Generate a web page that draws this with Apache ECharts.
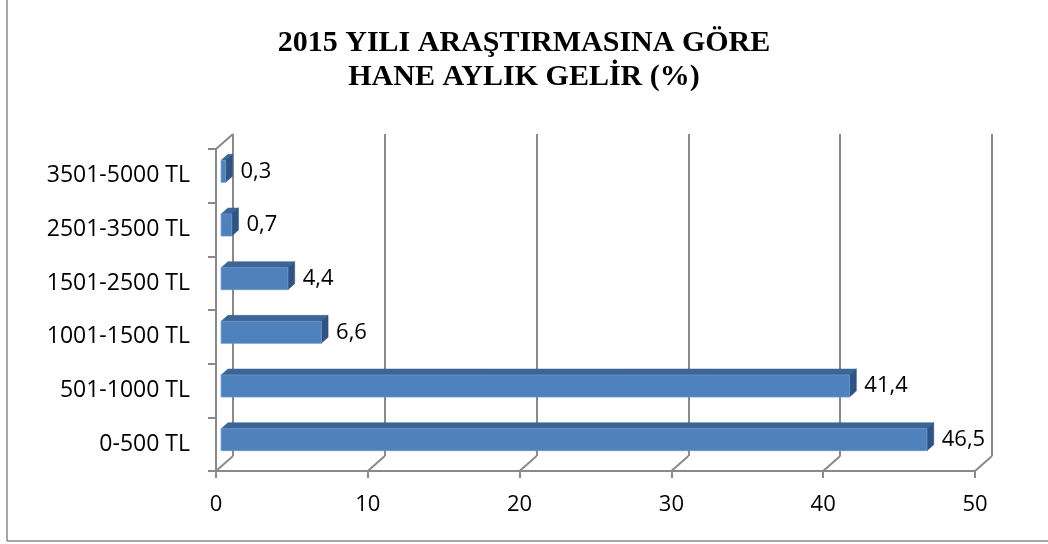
<!DOCTYPE html>
<html>
<head>
<meta charset="utf-8">
<script src="https://cdn.jsdelivr.net/npm/echarts@6/dist/echarts.min.js"></script>
<style>
html,body{margin:0;padding:0;background:#fff;}
#chart{width:1048px;height:544px;}
</style>
</head>
<body>
<div id="chart"></div>
<script>
// ---- data ----
var categories = ['0-500 TL', '501-1000 TL', '1001-1500 TL', '1501-2500 TL', '2501-3500 TL', '3501-5000 TL'];
var values = [46.5, 41.4, 6.6, 4.4, 0.7, 0.3];
var xTicks = [0, 10, 20, 30, 40, 50];
var titleLines = ['2015 YILI ARAŞTIRMASINA GÖRE', 'HANE AYLIK GELİR (%)'];

// ---- style constants ----
var DX = 17, DY = -15;          // 3D depth offset
var FRONT = 0.3, BACK = 0.7;    // bar depth fraction
var GRID_L = 216, GRID_T = 149, GRID_W = 759, GRID_H = 322;
var LINE_COL = '#8a8a8a';
var FONT = '"Open Sans", sans-serif';

var chart = echarts.init(document.getElementById('chart'), null, {renderer: 'canvas'});

function fmt(v) { return v.toFixed(1).replace('.', ','); }

var barData = values.map(function (v, i) { return [v, i]; });
var floorData = xTicks.map(function (t) { return [t, 0]; });

var option = {
  backgroundColor: '#ffffff',
  animation: false,
  title: {
    text: titleLines.join('\n'),
    left: 519,
    top: 21,
    textAlign: 'center',
    textStyle: {
      fontFamily: '"Liberation Serif", "Times New Roman", serif',
      fontWeight: 'bold',
      fontSize: 30,
      lineHeight: 34,
      color: '#000'
    }
  },
  grid: [
    {left: GRID_L, top: GRID_T, width: GRID_W, height: GRID_H},
    {left: GRID_L + DX, top: GRID_T + DY, width: GRID_W, height: GRID_H}
  ],
  xAxis: [
    {
      type: 'value', gridIndex: 0, min: 0, max: 50, interval: 10,
      axisLine: {show: true, lineStyle: {color: LINE_COL, width: 2}},
      axisTick: {show: true, inside: false, length: 7, lineStyle: {color: LINE_COL, width: 2}},
      splitLine: {show: false},
      axisLabel: {fontFamily: FONT, fontSize: 22, color: '#000', margin: 23}
    },
    {
      type: 'value', gridIndex: 1, min: 0, max: 50, interval: 10,
      axisLine: {show: false}, axisTick: {show: false}, axisLabel: {show: false},
      splitLine: {show: true, lineStyle: {color: LINE_COL, width: 2}}
    }
  ],
  yAxis: [
    {
      type: 'category', gridIndex: 0, data: categories,
      axisLine: {show: true, lineStyle: {color: LINE_COL, width: 2}},
      axisTick: {show: true, inside: false, length: 8, lineStyle: {color: LINE_COL, width: 2}},
      axisLabel: {fontFamily: FONT, fontSize: 23, color: '#000', margin: 26}
    },
    {
      type: 'category', gridIndex: 1, data: categories, show: false
    }
  ],
  series: [
    {
      // floor diagonals + left wall top edge
      type: 'custom', xAxisIndex: 0, yAxisIndex: 0, z: 1,
      data: floorData,
      renderItem: function (params, api) {
        var band = api.size([0, 1])[1];
        var p = api.coord([api.value(0), 0]);
        var yb = p[1] + band / 2;
        var children = [{
          type: 'line',
          shape: {x1: p[0], y1: yb, x2: p[0] + DX, y2: yb + DY},
          style: {stroke: LINE_COL, lineWidth: 2}
        }];
        if (params.dataIndex === 0) {
          var q = api.coord([0, categories.length - 1]);
          var yt = q[1] - band / 2;
          children.push({
            type: 'line',
            shape: {x1: q[0], y1: yt, x2: q[0] + DX, y2: yt + DY},
            style: {stroke: LINE_COL, lineWidth: 2}
          });
        }
        return {type: 'group', children: children};
      }
    },
    {
      type: 'custom', xAxisIndex: 0, yAxisIndex: 0, z: 5,
      data: barData,
      renderItem: function (params, api) {
        var v = api.value(0), idx = api.value(1);
        var band = api.size([0, 1])[1];
        var h = band * 0.41;
        var p0 = api.coord([0, idx]);
        var p1 = api.coord([v, idx]);
        var fx = DX * FRONT, fy = DY * FRONT;
        var bx = DX * BACK, by = DY * BACK;
        var x0 = p0[0] + fx, x1 = p1[0] + fx;
        var yc = p0[1] + fy;
        var yt = yc - h / 2, yb = yc + h / 2;
        var ddx = bx - fx, ddy = by - fy;
        return {
          type: 'group',
          children: [
            {
              type: 'polygon',
              shape: {points: [[x0, yt], [x1, yt], [x1 + ddx, yt + ddy], [x0 + ddx, yt + ddy]]},
              style: {fill: '#3c6496', stroke: '#3c6496', lineWidth: 0.5}
            },
            {
              type: 'polygon',
              shape: {points: [[x1, yt], [x1 + ddx, yt + ddy], [x1 + ddx, yb + ddy], [x1, yb]]},
              style: {fill: '#2f5383', stroke: '#2f5383', lineWidth: 0.5}
            },
            {
              type: 'rect',
              shape: {x: x0, y: yt, width: x1 - x0, height: h},
              style: {fill: '#4f81bd', stroke: '#6d96c8', lineWidth: 0.8}
            },
            {
              type: 'text',
              style: {
                text: fmt(v),
                x: x1 + ddx + 8, y: yc,
                textAlign: 'left', textVerticalAlign: 'middle',
                fontFamily: FONT, fontSize: 22, fill: '#000'
              }
            }
          ]
        };
      }
    }
  ],
  graphic: [
    {type: 'line', shape: {x1: 7, y1: 0, x2: 7, y2: 541}, style: {stroke: '#8a8a8a', lineWidth: 1.5}},
    {type: 'line', shape: {x1: 7, y1: 541, x2: 1048, y2: 541}, style: {stroke: '#8a8a8a', lineWidth: 1.5}}
  ]
};

chart.setOption(option);
</script>
</body>
</html>
